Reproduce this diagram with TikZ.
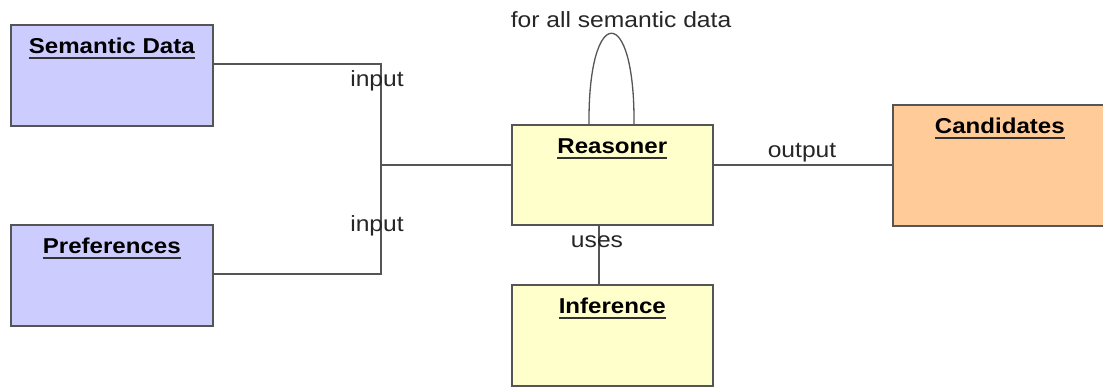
\documentclass[tikz,border=0pt]{standalone}
\usepackage{fontspec}
\setmainfont{Liberation Sans}[FakeStretch=1.12]
\definecolor{boxblue}{HTML}{CCCCFF}
\definecolor{boxyellow}{HTML}{FFFFCC}
\definecolor{boxorange}{HTML}{FFCC99}
\definecolor{edge}{HTML}{555555}
\tikzset{
  box/.style={draw=edge, line width=1.6pt, rectangle, anchor=north west, inner sep=0pt},
  title/.style={font=\fontsize{21.5}{25}\selectfont\bfseries, anchor=base, inner sep=0pt},
  lbl/.style={font=\fontsize{22}{26}\selectfont, text=black!85, anchor=base, inner sep=0pt},
  conn/.style={draw=edge, line width=1.3pt},
  uline/.style={line width=1.8pt, draw=black!80}
}
\newcommand{\boxtitle}[3]{%
  \node[title] (#1) at ([yshift=-29pt]#2.north) {#3};
  \draw[uline] ([yshift=-5pt]#1.base west) -- ([yshift=-5pt]#1.base east);
}
\begin{document}
\begin{tikzpicture}[x=1pt,y=-1pt]
\useasboundingbox (0,0) rectangle (1103,386);

% class boxes
\node[box, fill=boxblue, minimum width=202pt, minimum height=101pt] (sd) at (10,24) {};
\node[box, fill=boxblue, minimum width=202pt, minimum height=101pt] (pref) at (10,224) {};
\node[box, fill=boxyellow, minimum width=201pt, minimum height=100pt] (rs) at (511,124) {};
\node[box, fill=boxyellow, minimum width=201pt, minimum height=101pt] (inf) at (511,284) {};
\node[box, fill=boxorange, minimum width=214pt, minimum height=121pt] (cand) at (892,104) {};

\boxtitle{sdt}{sd}{Semantic Data}
\boxtitle{preft}{pref}{Preferences}
\boxtitle{rst}{rs}{Reasoner}
\boxtitle{inft}{inf}{Inference}
\boxtitle{candt}{cand}{Candidates}

% junction points of the input fork
\coordinate (j1) at (381,64);
\coordinate (j2) at (381,274);
\coordinate (jm) at (381,165);

% connectors
\draw[conn] (j1 -| sd.east) -- (j1) -- (j2) -- (j2 -| pref.east);
\draw[conn] (jm) -- (jm -| rs.west);
\draw[conn] (rs.east |- jm) -- (cand.west |- jm);
\coordinate (u1) at (599,0);
\draw[conn] (rs.south -| u1) -- (inf.north -| u1);
\coordinate (l1) at (589,0);
\coordinate (l2) at (634,0);
\draw[conn] (rs.north -| l1) .. controls (588,3) and (635,3) .. (rs.north -| l2);

% connector labels
\node[lbl] (in1) at (377,86) {input};
\node[lbl] (in2) at (377,231) {input};
\node[lbl] (out) at (802,157) {output};
\node[lbl] (uses) at (597,247) {uses};
\node[lbl] (loop) at (621,27) {for all semantic data};
\end{tikzpicture}
\end{document}
